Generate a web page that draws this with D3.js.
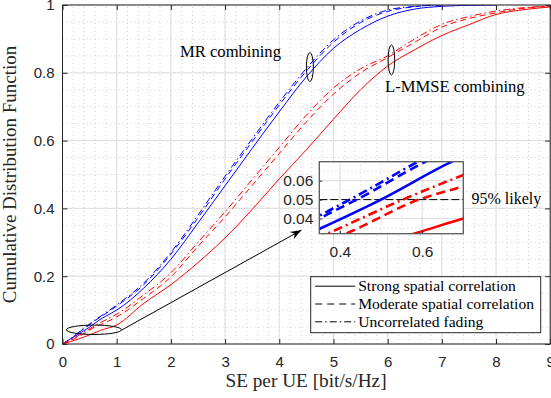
<!DOCTYPE html>
<html lang="en">
<head>
<meta charset="UTF-8">
<title>CDF of SE per UE</title>
<style>
  body { margin: 0; background: #fff; }
  svg text { font-family: "Liberation Serif", "Times New Roman", serif; fill: #262626; }
  svg .tick text { font-family: "Liberation Sans", Arial, sans-serif; fill: #262626; }
</style>
</head>
<body>
<svg width="551" height="398" id="svg"></svg>
<script src="https://d3js.org/d3.v7.min.js"></script>
<script>
// ---- data : [SE, CDF]
const mrStrong = [[0,0],[0.2,0.02],[0.355,0.035],[0.5,0.05],[0.672,0.07],[0.8,0.082],[1,0.1],[1.5,0.165],[2,0.25],[2.5,0.357],[3,0.467],[3.5,0.577],[4,0.685],[4.5,0.788],[5,0.872],[5.5,0.928],[6,0.967],[6.5,0.988],[7,0.996],[7.5,0.999],[8,1]]
const mrModerate = [[0,0],[0.2,0.02],[0.355,0.0405],[0.45,0.051],[0.59,0.068],[0.8,0.09],[1,0.112],[1.5,0.175],[2,0.265],[2.5,0.372],[3,0.487],[3.5,0.597],[4,0.705],[4.5,0.805],[5,0.89],[5.5,0.948],[6,0.981],[6.5,0.995],[7,1]]
const mrUncorr = [[0,0],[0.2,0.022],[0.355,0.042],[0.45,0.053],[0.59,0.07],[0.8,0.092],[1,0.115],[1.5,0.18],[2,0.27],[2.5,0.38],[3,0.495],[3.5,0.605],[4,0.713],[4.5,0.813],[5,0.897],[5.5,0.953],[6,0.985],[6.5,0.996],[7,1]]
const lmmseStrong = [[0,0],[0.3,0.015],[0.59,0.0327],[0.7,0.04],[1,0.056],[1.5,0.12],[2,0.175],[2.5,0.24],[3,0.313],[3.5,0.397],[4,0.487],[4.5,0.573],[5,0.663],[5.5,0.75],[6,0.82],[6.5,0.868],[7,0.91],[7.5,0.942],[8,0.972],[8.5,0.986],[9,0.994]]
const lmmseModerate = [[0,0],[0.2,0.014],[0.425,0.033],[0.592,0.05],[0.7,0.057],[1,0.08],[1.5,0.135],[2,0.198],[2.5,0.288],[3,0.375],[3.5,0.468],[4,0.562],[4.5,0.655],[5,0.737],[5.5,0.8],[6,0.845],[6.5,0.89],[7,0.935],[7.5,0.96],[8,0.977],[8.5,0.99],[9,0.996]]
const lmmseUncorr = [[0,0],[0.2,0.016],[0.38,0.033],[0.553,0.05],[0.7,0.063],[1,0.088],[1.5,0.145],[2,0.21],[2.5,0.3],[3,0.39],[3.5,0.485],[4,0.58],[4.5,0.675],[5,0.755],[5.5,0.812],[6,0.85],[6.5,0.9],[7,0.943],[7.5,0.966],[8,0.982],[8.5,0.992],[9,0.997]]

const xTicks = [0,1,2,3,4,5,6,7,8,9]
const yTicks = [0,0.2,0.4,0.6,0.8,1]
const yTickLabels = ["0","0.2","0.4","0.6","0.8","1"]
const insetXTicks = [0.4,0.6]
const insetYTicks = [0.04,0.05,0.06]
const legendLabels = ["Strong spatial correlation","Moderate spatial correlation","Uncorrelated fading"]
const likelyLevel = 0.05

const svg = d3.select("svg#svg")
svg.append("rect").attr("width", 551).attr("height", 398).attr("fill", "#fff")

const x = d3.scaleLinear().domain([0, 9]).range([62.5, 550.2])
const y = d3.scaleLinear().domain([0, 1]).range([344, 5])

const series = [
  {data: mrStrong, color: "#0000ff", dash: null},
  {data: mrModerate, color: "#0000ff", dash: "6,4"},
  {data: mrUncorr, color: "#0000ff", dash: "7,3,1.5,3"},
  {data: lmmseStrong, color: "#ff0000", dash: null},
  {data: lmmseModerate, color: "#ff0000", dash: "6,4"},
  {data: lmmseUncorr, color: "#ff0000", dash: "7,3,1.5,3"}
]

// grid
const grid = svg.append("g")
grid.selectAll("line.xm").data(d3.range(0, 9.001, 0.2)).join("line")
  .attr("x1", d => x(d)).attr("x2", d => x(d)).attr("y1", y(0)).attr("y2", y(1))
  .attr("stroke", "#c4c4c4").attr("stroke-dasharray", "1,3").attr("stroke-width", 0.8)
grid.selectAll("line.ym").data(d3.range(0, 1.001, 0.05)).join("line")
  .attr("x1", x(0)).attr("x2", x(9)).attr("y1", d => y(d)).attr("y2", d => y(d))
  .attr("stroke", "#c4c4c4").attr("stroke-dasharray", "1,3").attr("stroke-width", 0.8)
grid.selectAll("line.xg").data(xTicks).join("line")
  .attr("x1", d => x(d)).attr("x2", d => x(d)).attr("y1", y(0)).attr("y2", y(1))
  .attr("stroke", "#dedede").attr("stroke-width", 1)
grid.selectAll("line.yg").data(yTicks).join("line")
  .attr("x1", x(0)).attr("x2", x(9)).attr("y1", d => y(d)).attr("y2", d => y(d))
  .attr("stroke", "#dedede").attr("stroke-width", 1)

// curves
svg.append("clipPath").attr("id", "clipMain").append("rect")
  .attr("x", x(0)).attr("y", y(1)).attr("width", x(9) - x(0)).attr("height", y(0) - y(1))
const line = d3.line().x(d => x(d[0])).y(d => y(d[1])).curve(d3.curveMonotoneX)
svg.append("g").attr("clip-path", "url(#clipMain)")
  .selectAll("path").data(series).join("path")
  .attr("d", d => line(d.data)).attr("fill", "none")
  .attr("stroke", d => d.color).attr("stroke-width", 1)
  .attr("stroke-dasharray", d => d.dash)

// axes
const xAxis = d3.axisBottom(x).tickValues(xTicks).tickFormat(d3.format("d")).tickSizeInner(-5).tickSizeOuter(0).tickPadding(12)
const gx = svg.append("g").attr("transform", `translate(0,${y(0)})`).call(xAxis)
const yAxis = d3.axisLeft(y).tickValues(yTicks).tickFormat((d, i) => yTickLabels[i]).tickSizeInner(-5).tickSizeOuter(0).tickPadding(8)
const gy = svg.append("g").attr("transform", `translate(${x(0)},0)`).call(yAxis)
svg.append("g").attr("transform", `translate(0,${y(1)})`)
  .call(d3.axisTop(x).tickValues(xTicks).tickFormat("").tickSizeInner(-5).tickSizeOuter(0))
svg.append("g").attr("transform", `translate(${x(9)},0)`)
  .call(d3.axisRight(y).tickValues(yTicks).tickFormat("").tickSizeInner(-5).tickSizeOuter(0))
svg.selectAll(".domain").remove()
svg.selectAll(".tick line").attr("stroke", "#262626")
gx.selectAll("text").attr("font-size", 15)
gy.selectAll("text").attr("font-size", 15)
svg.append("rect").attr("x", x(0)).attr("y", y(1)).attr("width", x(9) - x(0)).attr("height", y(0) - y(1))
  .attr("fill", "none").attr("stroke", "#262626").attr("stroke-width", 1)

svg.append("text").attr("x", 306).attr("y", 387).attr("text-anchor", "middle")
  .attr("font-size", 19.3).text("SE per UE [bit/s/Hz]")
svg.append("text").attr("transform", `translate(16,${(y(0) + y(1)) / 2}) rotate(-90)`)
  .attr("text-anchor", "middle").attr("font-size", 19).text("Cumulative Distribution Function")

// annotations
const ann = svg.append("g").attr("fill", "none").attr("stroke", "#000").attr("stroke-width", 1)
ann.append("ellipse").attr("cx", x(0.58)).attr("cy", y(0.042)).attr("rx", 27.5).attr("ry", 4.7)
ann.append("ellipse").attr("cx", x(4.565)).attr("cy", y(0.817)).attr("rx", 3.5).attr("ry", 14.5)
ann.append("ellipse").attr("cx", x(6.07)).attr("cy", y(0.838)).attr("rx", 3.3).attr("ry", 15)
const a0 = [x(1.09), y(0.041)], a1 = [x(4.41), y(0.336)]
ann.append("line").attr("x1", a0[0]).attr("y1", a0[1]).attr("x2", a1[0]).attr("y2", a1[1])
const ang = Math.atan2(a1[1] - a0[1], a1[0] - a0[0])
const hl = 11, hw = 4
svg.append("path").attr("fill", "#000")
  .attr("d", `M${a1[0]},${a1[1]}
    L${a1[0] - hl * Math.cos(ang) + hw * Math.sin(ang)},${a1[1] - hl * Math.sin(ang) - hw * Math.cos(ang)}
    L${a1[0] - hl * 0.7 * Math.cos(ang)},${a1[1] - hl * 0.7 * Math.sin(ang)}
    L${a1[0] - hl * Math.cos(ang) - hw * Math.sin(ang)},${a1[1] - hl * Math.sin(ang) + hw * Math.cos(ang)}Z`)

svg.append("text").attr("x", 180).attr("y", 57).attr("font-size", 16.6).style("fill", "#000").text("MR combining")
svg.append("text").attr("x", 385).attr("y", 92).attr("font-size", 16.6).style("fill", "#000").text("L-MMSE combining")
svg.append("text").attr("x", 471.5).attr("y", 204).attr("font-size", 16).style("fill", "#000").text("95% likely")

// inset
const ix = d3.scaleLinear().domain([0.35, 0.7]).range([319.3, 463.3])
const iy = d3.scaleLinear().domain([0.032, 0.07]).range([233.7, 161.7])
const inset = svg.append("g")
inset.append("rect").attr("x", ix(0.35)).attr("y", iy(0.07)).attr("width", ix(0.7) - ix(0.35)).attr("height", iy(0.032) - iy(0.07)).attr("fill", "#fff")
inset.selectAll("line.ixm").data(d3.range(0.35, 0.701, 0.05)).join("line")
  .attr("x1", d => ix(d)).attr("x2", d => ix(d)).attr("y1", iy(0.032)).attr("y2", iy(0.07))
  .attr("stroke", "#c4c4c4").attr("stroke-dasharray", "1,3").attr("stroke-width", 0.8)
inset.selectAll("line.iym").data(d3.range(0.035, 0.0701, 0.005)).join("line")
  .attr("x1", ix(0.35)).attr("x2", ix(0.7)).attr("y1", d => iy(d)).attr("y2", d => iy(d))
  .attr("stroke", "#c4c4c4").attr("stroke-dasharray", "1,3").attr("stroke-width", 0.8)
inset.selectAll("line.ixg").data(insetXTicks).join("line")
  .attr("x1", d => ix(d)).attr("x2", d => ix(d)).attr("y1", iy(0.032)).attr("y2", iy(0.07))
  .attr("stroke", "#dedede")
inset.selectAll("line.iyg").data(insetYTicks).join("line")
  .attr("x1", ix(0.35)).attr("x2", ix(0.7)).attr("y1", d => iy(d)).attr("y2", d => iy(d))
  .attr("stroke", "#dedede")
svg.append("clipPath").attr("id", "clipInset").append("rect")
  .attr("x", ix(0.35)).attr("y", iy(0.07)).attr("width", ix(0.7) - ix(0.35)).attr("height", iy(0.032) - iy(0.07))
const iline = d3.line().x(d => ix(d[0])).y(d => iy(d[1])).curve(d3.curveMonotoneX)
const ic = inset.append("g").attr("clip-path", "url(#clipInset)")
ic.append("line").attr("x1", ix(0.35)).attr("x2", ix(0.7)).attr("y1", iy(likelyLevel)).attr("y2", iy(likelyLevel))
  .attr("stroke", "#000").attr("stroke-width", 1).attr("stroke-dasharray", "8,3")
ic.selectAll("path").data(series).join("path")
  .attr("d", d => iline(d.data)).attr("fill", "none")
  .attr("stroke", d => d.color).attr("stroke-width", 2.6)
  .attr("stroke-dasharray", d => d.dash ? (d.dash === "6,4" ? "9,5" : "9,4,2,4") : null)
inset.append("g").attr("transform", `translate(0,${iy(0.032)})`)
  .call(d3.axisBottom(ix).tickValues(insetXTicks).tickFormat(d3.format(".1f")).tickSizeInner(-3).tickSizeOuter(0).tickPadding(12))
inset.append("g").attr("transform", `translate(${ix(0.35)},0)`)
  .call(d3.axisLeft(iy).tickValues(insetYTicks).tickFormat(d3.format(".2f")).tickSizeInner(-3).tickSizeOuter(0).tickPadding(6))
inset.selectAll(".domain").remove()
inset.selectAll(".tick line").attr("stroke", "#262626")
inset.selectAll(".tick text").attr("font-size", 15.5)
inset.append("rect").attr("x", ix(0.35)).attr("y", iy(0.07)).attr("width", ix(0.7) - ix(0.35)).attr("height", iy(0.032) - iy(0.07))
  .attr("fill", "none").attr("stroke", "#5a5a5a").attr("stroke-width", 1.3)

// legend
const legend = svg.append("g").attr("transform", "translate(310.7,276.7)")
legend.append("rect").attr("width", 230).attr("height", 56).attr("fill", "#fff").attr("stroke", "#262626").attr("stroke-width", 1)
const legendDash = [null, "7,5", "7,3,1.5,3"]
legendLabels.forEach((lab, i) => {
  const ly = 9.5 + i * 17.8
  legend.append("line").attr("x1", 4.5).attr("x2", 44.5).attr("y1", ly).attr("y2", ly)
    .attr("stroke", "#000").attr("stroke-width", 1).attr("stroke-dasharray", legendDash[i])
  legend.append("text").attr("x", 47.5).attr("y", ly + 5).attr("font-size", 15.6).style("fill", "#000").text(lab)
})
</script>
</body>
</html>
